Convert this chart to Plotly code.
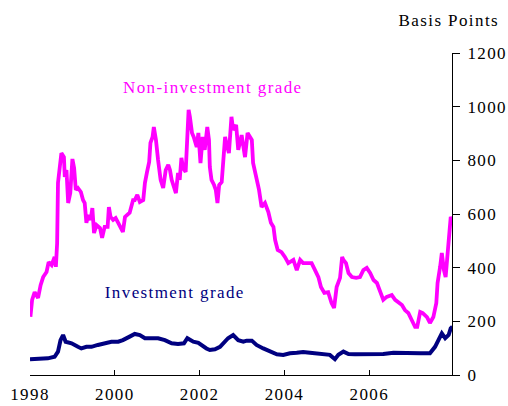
import plotly.graph_objects as go

# Non-investment grade spread (basis points), decimal years
hy_year = [1998.01, 1998.05, 1998.11, 1998.19, 1998.25, 1998.31, 1998.39, 1998.44, 1998.51, 1998.58,
           1998.61, 1998.64, 1998.66, 1998.70, 1998.74, 1998.80, 1998.82, 1998.86, 1998.90, 1998.95,
           1999.00, 1999.04, 1999.08, 1999.13, 1999.20, 1999.25, 1999.29, 1999.33, 1999.37, 1999.43,
           1999.47, 1999.51, 1999.57, 1999.65, 1999.70, 1999.76, 1999.83, 1999.86, 1999.90, 1999.96,
           2000.02, 2000.08, 2000.14, 2000.19, 2000.24, 2000.30, 2000.35, 2000.43, 2000.47, 2000.53,
           2000.59, 2000.67, 2000.71, 2000.76, 2000.81, 2000.84, 2000.89, 2000.92, 2000.97, 2001.02,
           2001.08, 2001.14, 2001.20, 2001.26, 2001.30, 2001.34, 2001.39, 2001.44, 2001.49, 2001.53,
           2001.57, 2001.61, 2001.67, 2001.71, 2001.74, 2001.77, 2001.82, 2001.86, 2001.93, 2001.97,
           2002.02, 2002.07, 2002.12, 2002.18, 2002.22, 2002.24, 2002.28, 2002.34, 2002.38, 2002.42,
           2002.46, 2002.52, 2002.56, 2002.60, 2002.64, 2002.69, 2002.75, 2002.79, 2002.86, 2002.91,
           2002.99, 2003.07, 2003.13, 2003.23, 2003.26, 2003.34, 2003.40, 2003.46, 2003.54, 2003.62,
           2003.68, 2003.74, 2003.78, 2003.84, 2003.93, 2004.01, 2004.09, 2004.21, 2004.29, 2004.37,
           2004.44, 2004.52, 2004.64, 2004.72, 2004.80, 2004.86, 2004.94, 2005.03, 2005.11, 2005.17,
           2005.23, 2005.31, 2005.36, 2005.39, 2005.45, 2005.51, 2005.59, 2005.69, 2005.78, 2005.86,
           2005.94, 2006.02, 2006.10, 2006.18, 2006.25, 2006.33, 2006.41, 2006.53, 2006.61, 2006.69,
           2006.77, 2006.84, 2006.92, 2007.00, 2007.08, 2007.13, 2007.20, 2007.26, 2007.36, 2007.43,
           2007.51, 2007.58, 2007.61, 2007.67, 2007.71, 2007.76, 2007.80, 2007.84, 2007.89, 2007.92,
           2007.97]
hy_bp = [217, 280, 309, 287, 335, 365, 384, 421, 410, 440,
         403, 492, 716, 775, 827, 812, 738, 764, 641, 678,
         805, 771, 690, 697, 682, 652, 641, 567, 596, 578,
         622, 529, 559, 548, 511, 552, 552, 626, 589, 578,
         585, 567, 548, 533, 589, 596, 605, 652, 652, 671,
         645, 652, 716, 757, 794, 865, 887, 924, 876, 801,
         727, 697, 764, 783, 764, 727, 697, 678, 753, 727,
         809, 771, 757, 865, 988, 962, 902, 887, 850, 902,
         790, 887, 839, 924, 876, 775, 727, 708, 690, 641,
         708, 719, 827, 887, 857, 827, 962, 913, 932, 839,
         894, 812, 902, 876, 790, 738, 690, 626, 641, 607,
         567, 552, 503, 466, 458, 440, 417, 429, 391, 429,
         417, 417, 417, 391, 365, 328, 306, 309, 268, 250,
         328, 362, 440, 429, 417, 380, 365, 362, 365, 391,
         399, 380, 354, 343, 317, 280, 291, 298, 280, 272,
         261, 242, 231, 205, 179, 179, 235, 231, 216, 194,
         216, 268, 343, 403, 455, 391, 365, 440, 552, 589,
         570]

# Investment grade spread (basis points), decimal years
ig_year = [1998.00, 1998.19, 1998.42, 1998.58, 1998.66, 1998.72, 1998.78, 1998.84, 1998.98, 1999.13,
           1999.21, 1999.33, 1999.45, 1999.60, 1999.76, 1999.92, 2000.08, 2000.19, 2000.35, 2000.47,
           2000.59, 2000.71, 2000.87, 2001.02, 2001.18, 2001.34, 2001.49, 2001.63, 2001.71, 2001.77,
           2001.85, 2001.97, 2002.08, 2002.16, 2002.24, 2002.36, 2002.48, 2002.58, 2002.67, 2002.79,
           2002.91, 2003.03, 2003.11, 2003.23, 2003.34, 2003.50, 2003.66, 2003.82, 2003.97, 2004.13,
           2004.29, 2004.44, 2004.60, 2004.76, 2004.92, 2005.07, 2005.19, 2005.27, 2005.39, 2005.51,
           2005.66, 2005.86, 2006.10, 2006.33, 2006.57, 2006.80, 2007.00, 2007.20, 2007.43, 2007.55,
           2007.63, 2007.71, 2007.79, 2007.87, 2007.92, 2007.96]
ig_bp = [59, 59, 62, 68, 87, 130, 149, 124, 118, 105,
         99, 105, 105, 112, 118, 124, 124, 130, 143, 153,
         149, 137, 137, 137, 130, 118, 116, 118, 137, 130,
         124, 120, 105, 99, 93, 96, 105, 124, 137, 149,
         130, 124, 128, 128, 112, 99, 87, 77, 75, 81,
         83, 86, 83, 81, 78, 75, 59, 75, 87, 78,
         77, 77, 77, 78, 83, 81, 81, 81, 81, 105,
         130, 155, 137, 149, 174, 180]

x_ticks = [1998, 2000, 2002, 2004, 2006]
y_ticks = [0, 200, 400, 600, 800, 1000, 1200]

FONT = "Liberation Serif, Times New Roman, serif"

fig = go.Figure()
fig.add_trace(go.Scatter(x=hy_year, y=hy_bp, mode="lines",
                         line=dict(color="#FF00FF", width=3.8), name="Non-investment grade"))
fig.add_trace(go.Scatter(x=ig_year, y=ig_bp, mode="lines",
                         line=dict(color="#000080", width=4), name="Investment grade"))

fig.update_layout(
    width=508, height=406,
    margin=dict(l=30, r=56, t=53, b=31),
    paper_bgcolor="white", plot_bgcolor="white",
    showlegend=False,
    font=dict(family=FONT, size=17, color="black"),
    xaxis=dict(range=[1998, 2007.95], tickvals=x_ticks, ticktext=[str(t) for t in x_ticks],
               ticks="inside", ticklen=5, tickcolor="black", showgrid=False, zeroline=False,
               showline=True, linecolor="black", linewidth=1, automargin=False,
               ticklabelstandoff=4,
               tickfont=dict(family=FONT, size=17)),
    yaxis=dict(range=[0, 1200], tickvals=y_ticks, side="right",
               ticks="outside", ticklen=7, tickcolor="black", showgrid=False, zeroline=False,
               showline=True, linecolor="black", linewidth=1, automargin=False,
               ticklabelstandoff=4,
               tickfont=dict(family=FONT, size=17)),
)

fig.add_annotation(x=1.097, y=1.0, xref="paper", yref="paper", xanchor="right",
                   yanchor="middle", yshift=33,
                   text="Basis Points", showarrow=False,
                   font=dict(family=FONT, size=17, color="black"))
fig.add_annotation(x=2002.31, y=1070, xref="x", yref="y", text="Non-investment grade",
                   showarrow=False, font=dict(family=FONT, size=17, color="#FF00FF"))
fig.add_annotation(x=2001.41, y=306, xref="x", yref="y", text="Investment grade",
                   showarrow=False, font=dict(family=FONT, size=17, color="#000080"))

fig.write_html(
    "out.html",
    config={"displayModeBar": False, "staticPlot": True},
    post_script=(
        "document.body.style.margin='0px';"
        "document.body.style.overflow='hidden';"
        "document.querySelectorAll('svg text').forEach(function(t){t.style.letterSpacing='1.4px';});"
    ),
)
